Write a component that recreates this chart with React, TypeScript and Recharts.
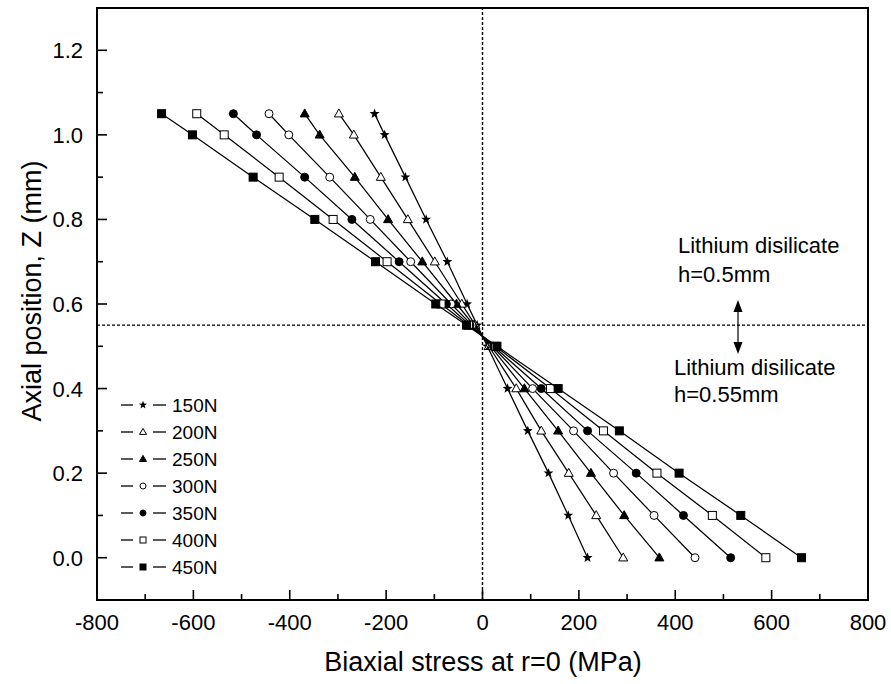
import React from 'react';
import { ScatterChart, Scatter, XAxis, YAxis, ReferenceLine } from 'recharts';

// axial position of every sample point (mm)
const zLevels = [1.05, 1.0, 0.9, 0.8, 0.7, 0.6, 0.55, 0.5, 0.4, 0.3, 0.2, 0.1, 0.0];

// biaxial stress at r=0 (MPa), one array per load
const s150 = [-224, -203, -160, -117, -73, -32, -11, 10, 52, 94, 137, 178, 218];
const s200 = [-298, -267, -211, -155, -99, -43, -15, 13, 70, 122, 179, 236, 292];
const s250 = [-369, -338, -265, -196, -125, -54, -18, 17, 87, 157, 225, 294, 367];
const s300 = [-443, -402, -317, -233, -149, -65, -22, 20, 104, 189, 272, 356, 441];
const s350 = [-517, -469, -369, -271, -173, -75, -26, 23, 122, 218, 319, 417, 515];
const s400 = [-593, -536, -422, -310, -198, -86, -29, 27, 141, 251, 362, 477, 588];
const s450 = [-666, -602, -476, -348, -222, -97, -33, 30, 157, 284, 408, 536, 662];

const xTicks = [-800, -700, -600, -500, -400, -300, -200, -100, 0, 100, 200, 300, 400, 500, 600, 700, 800];
const yTicks = [0, 0.1, 0.2, 0.3, 0.4, 0.5, 0.6, 0.7, 0.8, 0.9, 1.0, 1.1, 1.2];

const FONT = '"Liberation Sans", Arial, Helvetica, sans-serif';

type Kind = 'star' | 'triangle' | 'circle' | 'square';

const series: { name: string; values: number[]; kind: Kind; filled: boolean }[] = [
  { name: '150N', values: s150, kind: 'star', filled: true },
  { name: '200N', values: s200, kind: 'triangle', filled: false },
  { name: '250N', values: s250, kind: 'triangle', filled: true },
  { name: '300N', values: s300, kind: 'circle', filled: false },
  { name: '350N', values: s350, kind: 'circle', filled: true },
  { name: '400N', values: s400, kind: 'square', filled: false },
  { name: '450N', values: s450, kind: 'square', filled: true },
];

function starPath(cx: number, cy: number, ro: number, ri: number) {
  let d = '';
  for (let i = 0; i < 10; i++) {
    const r = i % 2 === 0 ? ro : ri;
    const a = -Math.PI / 2 + (i * Math.PI) / 5;
    d += (i === 0 ? 'M' : 'L') + (cx + r * Math.cos(a)).toFixed(2) + ',' + (cy + r * Math.sin(a)).toFixed(2);
  }
  return d + 'Z';
}

const Marker = ({ cx, cy, kind, filled, size }: { cx: number; cy: number; kind: Kind; filled: boolean; size: number }) => {
  const fill = filled ? '#000' : '#fff';
  const h = size / 2;
  if (kind === 'square') return <rect x={cx - h} y={cy - h} width={size} height={size} fill={fill} stroke="#000" strokeWidth={1} />;
  if (kind === 'circle') return <circle cx={cx} cy={cy} r={h} fill={fill} stroke="#000" strokeWidth={1} />;
  if (kind === 'triangle') {
    const pts = `${cx},${cy - size * 0.6} ${cx - h - 0.5},${cy + size * 0.4} ${cx + h + 0.5},${cy + size * 0.4}`;
    return <polygon points={pts} fill={fill} stroke="#000" strokeWidth={1} />;
  }
  return <path d={starPath(cx, cy, h + 1.2, (h + 1.2) * 0.42)} fill="#000" />;
};

const XTick = (props: any) => {
  const { x, y, payload } = props;
  const v = payload.value;
  const major = v % 200 === 0;
  return (
    <g>
      <line x1={x} x2={x} y1={y} y2={y - (major ? 10 : 6)} stroke="#000" strokeWidth={1.6} />
      {major && (
        <text x={x} y={y + 30} textAnchor="middle" fontSize={22} fill="#000" fontFamily={FONT}>
          {v}
        </text>
      )}
    </g>
  );
};

const YTick = (props: any) => {
  const { x, y, payload } = props;
  const v = payload.value;
  const major = Math.round(v * 10) % 2 === 0;
  return (
    <g>
      <line x1={x} x2={x + (major ? 10 : 6)} y1={y} y2={y} stroke="#000" strokeWidth={1.6} />
      {major && (
        <text x={x - 14} y={y + 8} textAnchor="end" fontSize={22} fill="#000" fontFamily={FONT}>
          {v.toFixed(1)}
        </text>
      )}
    </g>
  );
};

export default function App() {
  return (
    <div style={{ position: 'absolute', left: 0, top: 0, width: 891, height: 684, background: '#fff', fontFamily: FONT }}>
      <ScatterChart width={891} height={684} margin={{ top: 8, right: 23, bottom: 0, left: 0 }}>
        <XAxis
          type="number"
          dataKey="x"
          domain={[-800, 800]}
          ticks={xTicks}
          interval={0}
          height={84}
          tickSize={0}
          tickMargin={0}
          tickLine={false}
          axisLine={false}
          tick={<XTick />}
          allowDataOverflow
          label={{
            content: () => (
              <text x={483} y={671} textAnchor="middle" fontSize={27} fill="#000" fontFamily={FONT}>
                Biaxial stress at r=0 (MPa)
              </text>
            ),
          }}
        />
        <YAxis
          type="number"
          dataKey="z"
          domain={[-0.1, 1.3]}
          ticks={yTicks}
          interval={0}
          width={97}
          tickSize={0}
          tickMargin={0}
          tickLine={false}
          axisLine={false}
          tick={<YTick />}
          allowDataOverflow
          label={{
            content: () => (
              <text
                x={0}
                y={0}
                transform="translate(41,291) rotate(-90)"
                textAnchor="middle"
                fontSize={27}
                fill="#000"
                fontFamily={FONT}
              >
                Axial position, Z (mm)
              </text>
            ),
          }}
        />
        <ReferenceLine x={0} stroke="#000" strokeWidth={1.4} strokeDasharray="3 2" />
        <ReferenceLine y={0.55} stroke="#000" strokeWidth={1.4} strokeDasharray="3 2" />
        {series.map((s) => (
          <Scatter
            key={s.name}
            name={s.name}
            data={zLevels.map((z, i) => ({ x: s.values[i], z }))}
            line={{ stroke: '#000', strokeWidth: 1.25 }}
            lineType="joint"
            isAnimationActive={false}
            shape={(p: any) => <Marker cx={p.cx} cy={p.cy} kind={s.kind} filled={s.filled} size={8} />}
          />
        ))}
      </ScatterChart>

      <svg width={891} height={684} style={{ position: 'absolute', left: 0, top: 0, pointerEvents: 'none' }} fontFamily={FONT}>
        <rect x={97} y={8} width={771} height={592} fill="none" stroke="#000" strokeWidth={2} />
        {series.map((s, i) => {
          const y = 405 + i * 27;
          return (
            <g key={s.name}>
              <line x1={121} x2={133} y1={y} y2={y} stroke="#000" strokeWidth={1.3} />
              <line x1={153} x2={166} y1={y} y2={y} stroke="#000" strokeWidth={1.3} />
              <Marker cx={143} cy={y} kind={s.kind} filled={s.filled} size={6} />
              <text x={172} y={y + 7} fontSize={19} fill="#000">
                {s.name}
              </text>
            </g>
          );
        })}
        <text x={678} y={253} fontSize={22} fill="#000">Lithium disilicate</text>
        <text x={678} y={282} fontSize={22} fill="#000">h=0.5mm</text>
        <text x={674} y={375} fontSize={22} fill="#000">Lithium disilicate</text>
        <text x={674} y={402} fontSize={22} fill="#000">h=0.55mm</text>
        <line x1={738} x2={738} y1={310} y2={344} stroke="#000" strokeWidth={1.2} />
        <polygon points="738,300 733.5,312 742.5,312" fill="#000" />
        <polygon points="738,354 733.5,342 742.5,342" fill="#000" />
      </svg>
    </div>
  );
}
